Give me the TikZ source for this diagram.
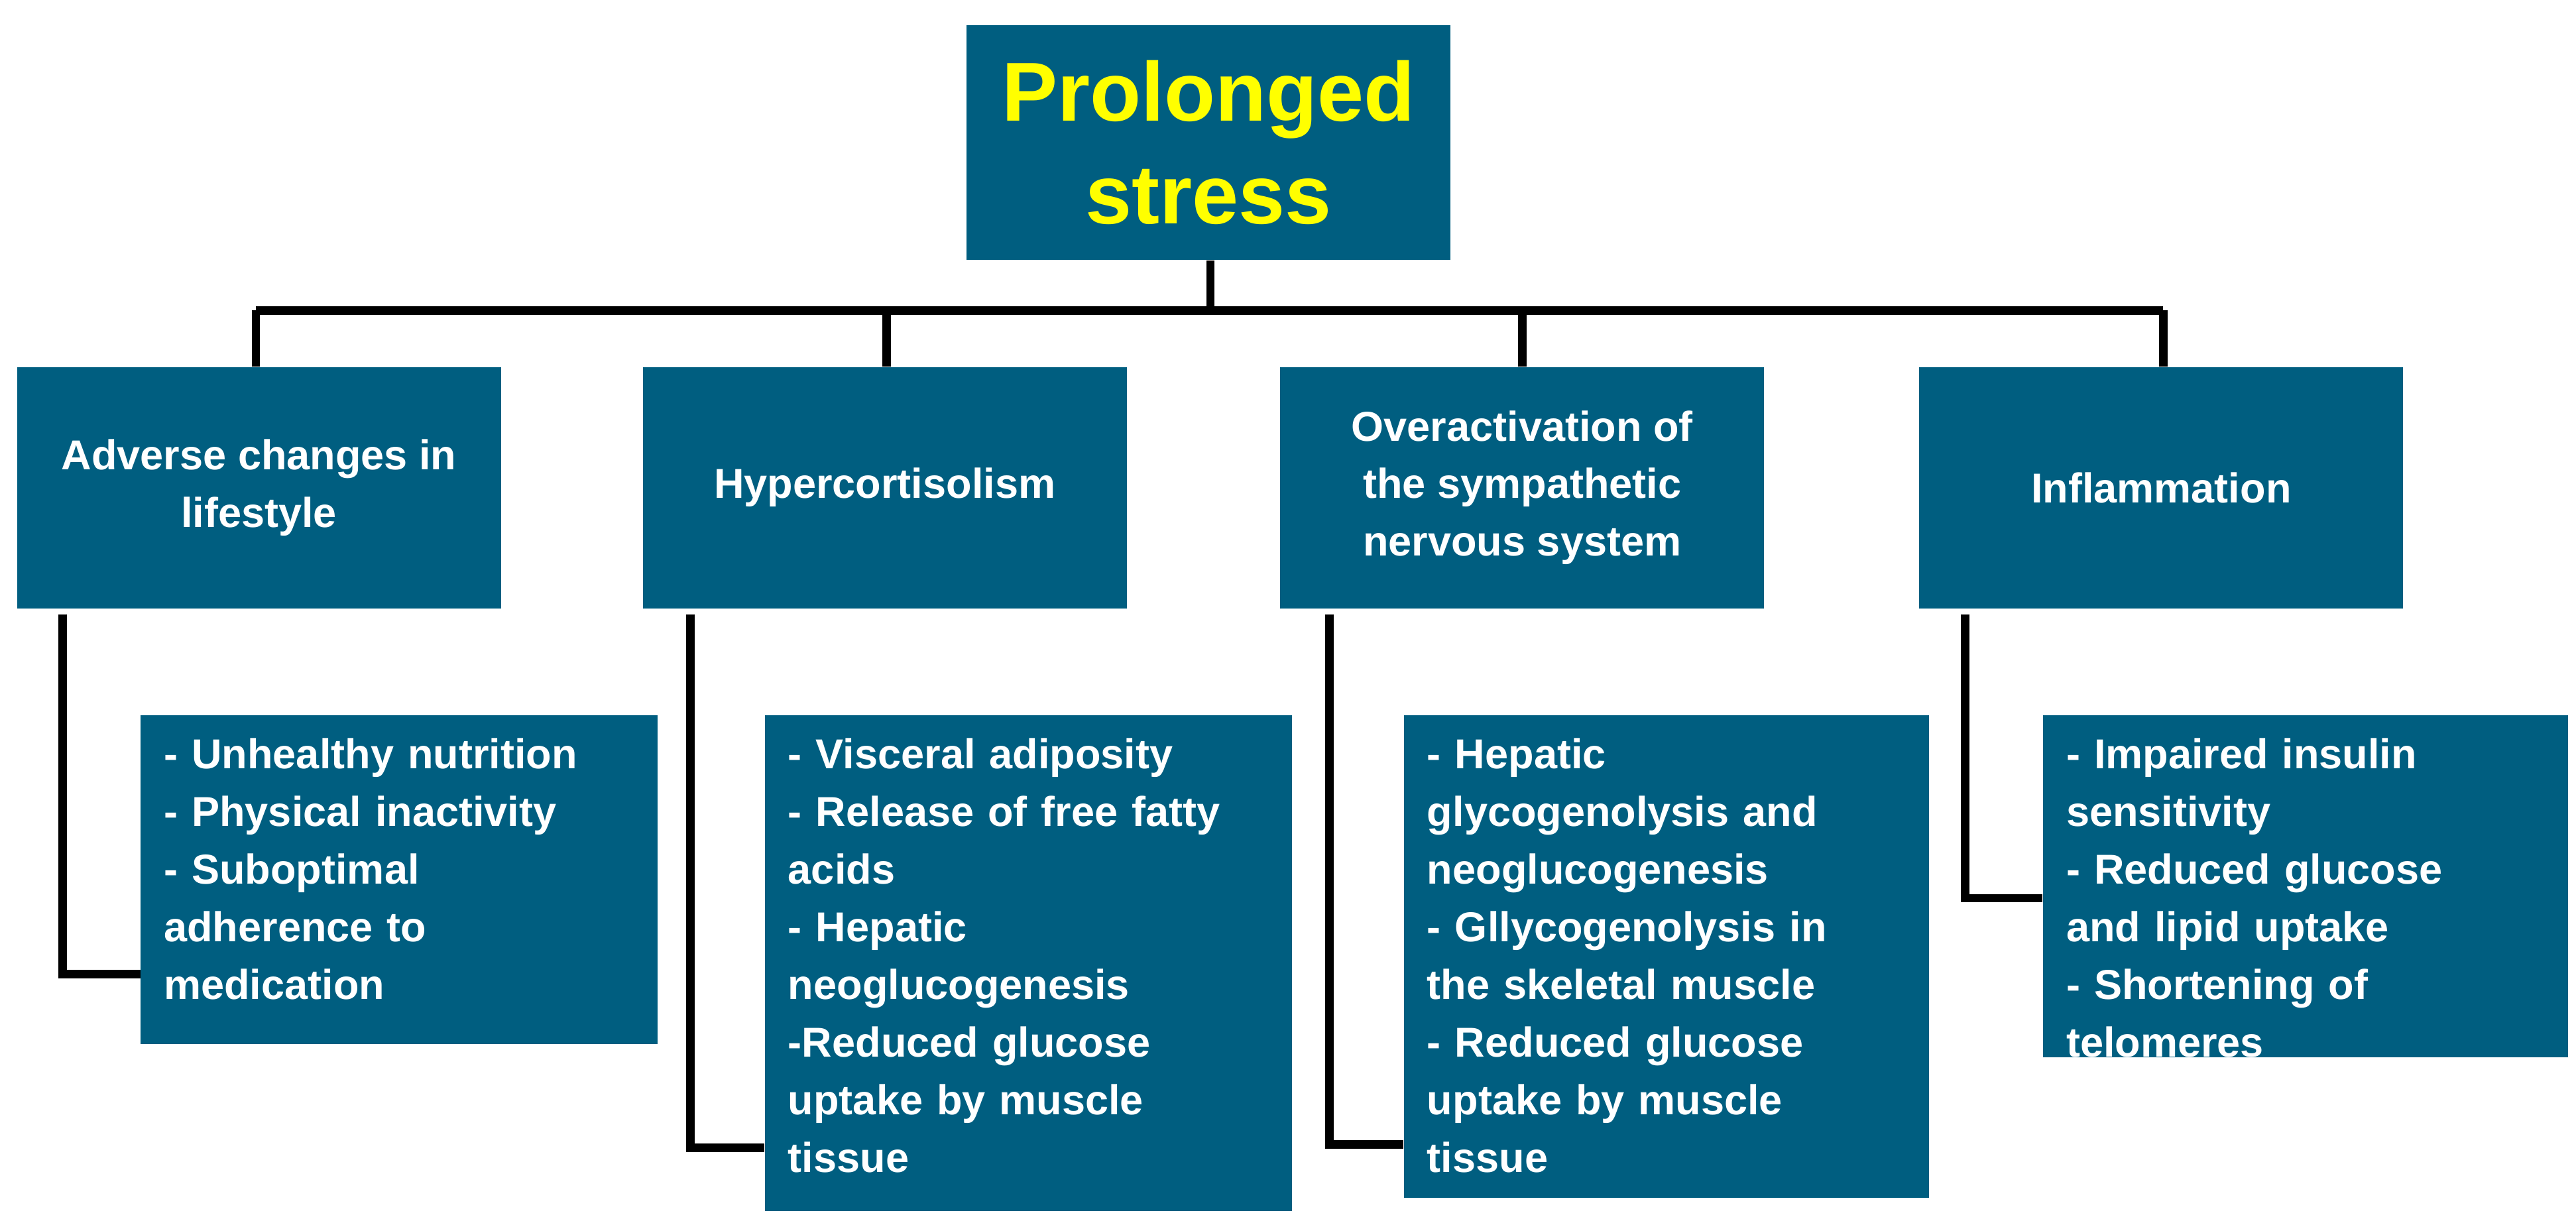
\documentclass[tikz,border=0pt]{standalone}
\usepackage{fontspec}
\setmainfont{Liberation Sans}
\begin{document}
\begin{tikzpicture}[x=0.025cm,y=-0.025cm,
  box/.style={fill=boxc,draw=none,anchor=north west,inner sep=0pt},
  txt/.style={text=white,font=\bfseries\fontsize{18}{24.8}\selectfont,inner sep=0pt},
  conn/.style={draw=black,line width=3.6pt}]
\definecolor{boxc}{RGB}{0,94,128}
\definecolor{ttl}{RGB}{255,255,0}
\useasboundingbox (0,0) rectangle (1560,741.6);
% boxes
\node[box,minimum width=7.325cm,minimum height=3.55cm] (top) at (585,15) {};
\node[text=ttl,font=\bfseries\fontsize{36}{44}\selectfont,align=center,inner sep=0pt] (toptxt) at (top.center) {Prolonged\\stress};
\foreach \n/\x in {a/10,b/389,c/775,d/1162}
  \node[box,minimum width=7.325cm,minimum height=3.65cm] (\n) at (\x,222) {};
\node[txt,align=center] at (a.center) {Adverse changes in\\lifestyle};
\node[txt,align=center] at (b.center) {Hypercortisolism};
\node[txt,align=center] at (c.center) {Overactivation of\\the sympathetic\\nervous system};
\node[txt,align=center] at (d.center) {Inflammation};
\node[box,minimum width=7.825cm,minimum height=4.975cm] (a2) at (85,433) {};
\node[box,minimum width=7.975cm,minimum height=7.5cm] (b2) at (463,433) {};
\node[box,minimum width=7.95cm,minimum height=7.3cm] (c2) at (850,433) {};
\node[box,minimum width=7.95cm,minimum height=5.175cm] (d2) at (1237,433) {};
\node[txt,anchor=north west,align=left,text width=7.4cm] at ([xshift=0.35cm,yshift=-0.35cm]a2.north west) {- Unhealthy nutrition\\- Physical inactivity\\- Suboptimal\\adherence to\\medication};
\node[txt,anchor=north west,align=left,text width=7.6cm] at ([xshift=0.35cm,yshift=-0.35cm]b2.north west) {- Visceral adiposity\\- Release of free fatty\\acids\\- Hepatic\\neoglucogenesis\\-Reduced glucose\\uptake by muscle\\tissue};
\node[txt,anchor=north west,align=left,text width=7.6cm] at ([xshift=0.35cm,yshift=-0.35cm]c2.north west) {- Hepatic\\glycogenolysis and\\neoglucogenesis\\- Gllycogenolysis in\\the skeletal muscle\\- Reduced glucose\\uptake by muscle\\tissue};
\node[txt,anchor=north west,align=left,text width=7.6cm] at ([xshift=0.35cm,yshift=-0.35cm]d2.north west) {- Impaired insulin\\sensitivity\\- Reduced glucose\\and lipid uptake\\- Shortening of\\telomeres};
% tree connectors
\coordinate (j) at (733,188);
\draw[conn] (top.south -| j) -- (j);
\draw[conn] (155,188) -- (1310,188);
\draw[conn] (155,188) -- (155,222);
\draw[conn] (537,188) -- (537,222);
\draw[conn] (922,188) -- (922,222);
\draw[conn] (1310,188) -- (1310,222);
% elbows
\draw[conn] (38,372) |- (a2.west |- 0,590);
\draw[conn] (418,372) |- (b2.west |- 0,695);
\draw[conn] (805,372) |- (c2.west |- 0,693);
\draw[conn] (1190,372) |- (d2.west |- 0,544);
\end{tikzpicture}
\end{document}
